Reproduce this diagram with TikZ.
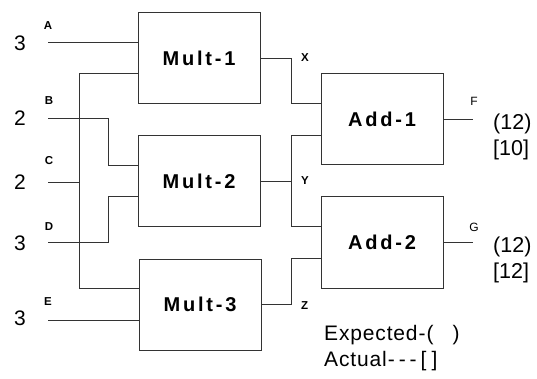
\documentclass[tikz,border=0pt]{standalone}
\usepackage{fontspec}
\setmainfont{Liberation Sans}
\newfontfamily\boxfont[LetterSpace=14]{Liberation Sans}
\newfontfamily\notefont[LetterSpace=4]{Liberation Sans}
\begin{document}
\begin{tikzpicture}[x=1pt,y=-1pt,
  wire/.style={draw=black!80,line width=0.9pt},
  block/.style={draw=black!80,line width=1pt,minimum width=122pt,minimum height=91pt,inner sep=0pt,
    font=\boxfont\bfseries\fontsize{20}{22}\selectfont},
  val/.style={font=\fontsize{21}{23}\selectfont,inner sep=0pt},
  sig/.style={font=\bfseries\fontsize{11.5}{12}\selectfont,inner sep=0pt},
  res/.style={font=\fontsize{21.5}{23}\selectfont,inner sep=0pt,anchor=west},
  note/.style={font=\notefont\fontsize{21}{23}\selectfont,inner sep=0pt,anchor=west}]
\useasboundingbox (0,0) rectangle (537,379);
% blocks
\node[block] (m1) at (199,58) {Mult-1};
\node[block] (m2) at (199,181) {Mult-2};
\node[block] (m3) at (200,304.5) {Mult-3};
\node[block] (a1) at (382,119) {Add-1};
\node[block] (a2) at (382,242.5) {Add-2};
% input points on blocks
\coordinate (m1i1) at ([yshift=15.5pt]m1.west);
\coordinate (m1i2) at ([yshift=-15.5pt]m1.west);
\coordinate (m2i1) at ([yshift=15.5pt]m2.west);
\coordinate (m2i2) at ([yshift=-15.5pt]m2.west);
\coordinate (m3i1) at ([yshift=16pt]m3.west);
\coordinate (m3i2) at ([yshift=-16pt]m3.west);
\coordinate (a1i1) at ([yshift=16pt]a1.west);
\coordinate (a1i2) at ([yshift=-16pt]a1.west);
\coordinate (a2i1) at ([yshift=16pt]a2.west);
\coordinate (a2i2) at ([yshift=-16pt]a2.west);
% routing columns
\coordinate (jx) at (79,0);
\coordinate (bx) at (108,0);
\coordinate (ox) at (291,0);
% input starts
\coordinate (A) at (48,42.5);
\coordinate (B) at (48,118);
\coordinate (C) at (48,182);
\coordinate (D) at (48,242);
\coordinate (E) at (48,320.5);
% input values and names
\node[val] (vA) at (20,43) {3};
\node[val] (vB) at (20,118) {2};
\node[val] (vC) at (20,182) {2};
\node[val] (vD) at (20,243) {3};
\node[val] (vE) at (20,318) {3};
\node[sig] (lA) at (48,26) {A};
\node[sig] (lB) at (49,101) {B};
\node[sig] (lC) at (49,161) {C};
\node[sig] (lD) at (49,227) {D};
\node[sig] (lE) at (48,302) {E};
% input wires
\draw[wire] (A) -- (A -| m1.west);
\draw[wire] (m1i2) -- (m1i2 -| jx) -- (m3i1 -| jx) -- (m3i1);
\draw[wire] (C) -- (C -| jx);
\draw[wire] (B) -- (B -| bx) -- (bx |- m2i1) -- (m2i1);
\draw[wire] (D) -- (D -| bx) -- (bx |- m2i2) -- (m2i2);
\draw[wire] (E) -- (E -| m3.west);
% middle wires
\draw[wire] (m1.east) -- (m1.east -| ox) -- (ox |- a1i1) -- (a1i1);
\draw[wire] (m2.east) -- (m2.east -| ox);
\draw[wire] (a1i2) -- (ox |- a1i2) -- (ox |- a2i1) -- (a2i1);
\draw[wire] (m3.east) -- (m3.east -| ox) -- (ox |- a2i2) -- (a2i2);
\node[sig,anchor=west] (lX) at ([xshift=10pt]ox |- m1.east) {X};
\node[sig,anchor=west] (lY) at ([xshift=10pt]ox |- m2.east) {Y};
\node[sig,anchor=west] (lZ) at ([xshift=10pt,yshift=-1pt]ox |- m3.east) {Z};
% outputs
\coordinate (F) at (473,119);
\coordinate (G) at (473,242.5);
\draw[wire] (a1.east) -- (F);
\draw[wire] (a2.east) -- (G);
\node[sig,font=\fontsize{12}{13}\selectfont] (lF) at (474,101) {F};
\node[sig,font=\fontsize{12}{13}\selectfont] (lG) at (474,227) {G};
\node[res] (eF) at (493,124) {(12)};
\node[res] (rF) at (493,150) {[10]};
\node[res] (eG) at (493,247) {(12)};
\node[res] (rG) at (493,273) {[12]};
% legend
\node[note] (ex) at (324,335) {Expected\hspace{1pt}-\hspace{1pt}(\hspace{19pt})};
\node[note] (ac) at (324,361) {Actual\hspace{1pt}\mbox{-}\hspace{4pt}\mbox{-}\hspace{4pt}\mbox{-}\hspace{4pt}[\hspace{5pt}]};
\end{tikzpicture}
\end{document}
